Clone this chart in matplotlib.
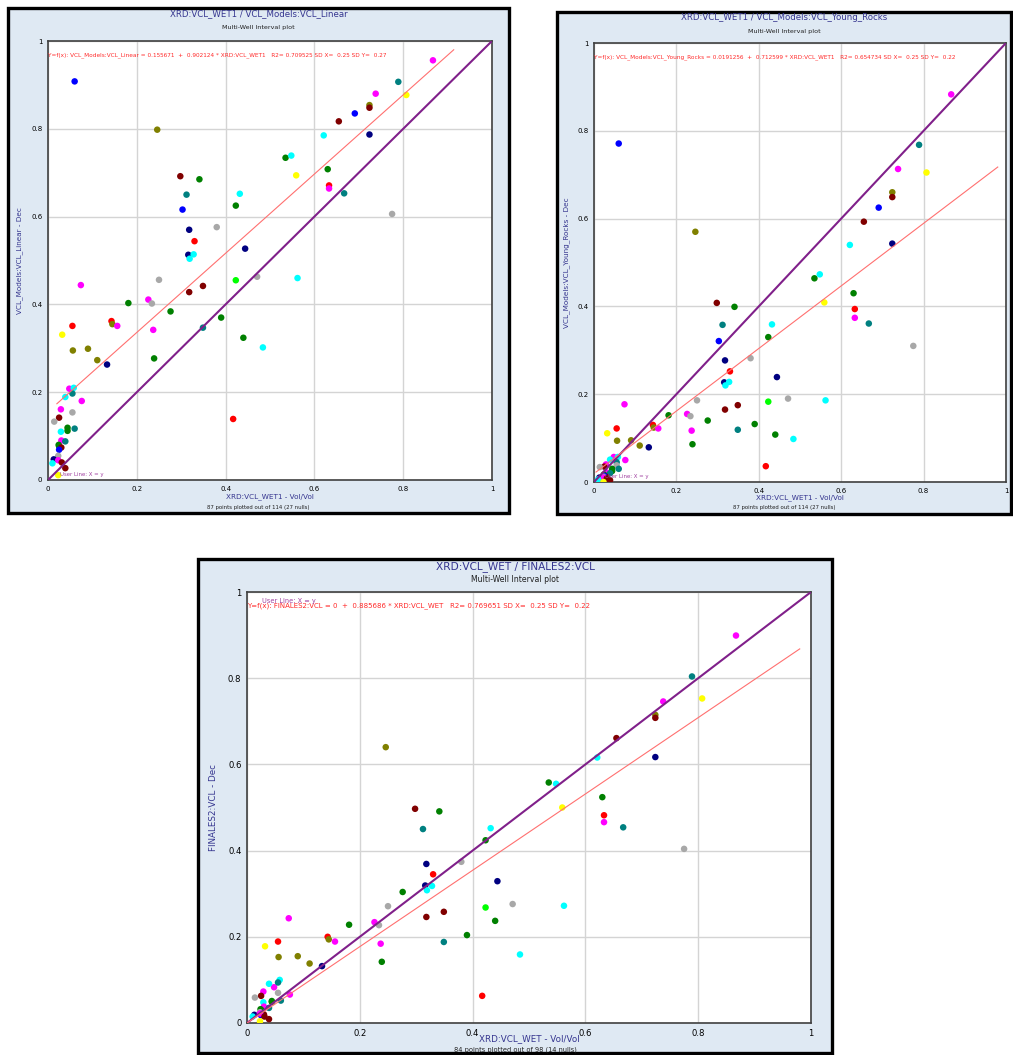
import matplotlib
matplotlib.use("Agg")
import matplotlib.pyplot as plt
from matplotlib.patches import Rectangle

W, H = 1013, 1055

# Well colour palette
C = {
    "blue": "#0000ff", "olive": "#808000", "magenta": "#ff00ff", "teal": "#008080",
    "yellow": "#ffff00", "maroon": "#800000", "cyan": "#00ffff", "navy": "#000080",
    "green": "#008000", "red": "#ff0000", "gray": "#a8a8a8", "lime": "#00ff00",
}

well = ["blue", "olive", "magenta", "teal", "magenta", "yellow", "olive", "maroon",
        "blue", "maroon", "cyan", "navy", "green", "cyan", "yellow", "green",
        "red", "magenta", "teal", "gray", "maroon", "green", "teal", "cyan",
        "green", "blue", "gray", "navy", "red", "navy", "navy", "cyan",
        "cyan", "gray", "gray", "cyan", "lime", "magenta", "maroon", "maroon",
        "green", "magenta", "gray", "green", "green", "red", "olive", "magenta",
        "red", "teal", "magenta", "yellow", "green", "olive", "olive", "cyan",
        "olive", "navy", "green", "red", "magenta", "cyan", "teal", "cyan",
        "magenta", "magenta", "gray", "maroon", "gray", "green", "green", "teal",
        "cyan", "magenta", "teal", "green", "green", "maroon", "blue", "gray",
        "navy", "magenta", "cyan", "maroon", "maroon", "yellow"]

xrd_vcl_wet = [0.060, 0.246, 0.867, 0.789, 0.738, 0.807, 0.724, 0.724,
               0.691, 0.655, 0.621, 0.724, 0.535, 0.548, 0.559, 0.630,
               0.633, 0.633, 0.667, 0.775, 0.298, 0.341, 0.312, 0.432,
               0.423, 0.303, 0.380, 0.318, 0.330, 0.444, 0.316, 0.328,
               0.319, 0.250, 0.471, 0.562, 0.423, 0.074, 0.349, 0.318,
               0.181, 0.226, 0.234, 0.276, 0.390, 0.143, 0.145, 0.156,
               0.055, 0.349, 0.237, 0.032, 0.440, 0.056, 0.090, 0.484,
               0.111, 0.133, 0.239, 0.417, 0.048, 0.058, 0.055, 0.039,
               0.076, 0.029, 0.055, 0.025, 0.014, 0.044, 0.044, 0.060,
               0.029, 0.030, 0.039, 0.024, 0.025, 0.030, 0.025, 0.023,
               0.013, 0.023, 0.010, 0.031, 0.039, 0.023]

vcl_linear = [0.908, 0.798, 0.956, 0.907, 0.880, 0.877, 0.854, 0.848,
              0.835, 0.817, 0.785, 0.787, 0.734, 0.739, 0.694, 0.708,
              0.671, 0.664, 0.653, 0.606, 0.692, 0.685, 0.650, 0.652,
              0.625, 0.616, 0.576, 0.570, 0.544, 0.527, 0.513, 0.514,
              0.504, 0.456, 0.463, 0.460, 0.455, 0.444, 0.442, 0.428,
              0.403, 0.411, 0.402, 0.384, 0.370, 0.362, 0.355, 0.351,
              0.351, 0.347, 0.342, 0.331, 0.324, 0.295, 0.299, 0.302,
              0.273, 0.263, 0.277, 0.139, 0.208, 0.210, 0.197, 0.189,
              0.180, 0.161, 0.154, 0.142, 0.133, 0.119, 0.112, 0.117,
              0.110, 0.090, 0.088, 0.080, 0.077, 0.074, 0.069, 0.055,
              0.047, 0.045, 0.038, 0.040, 0.027, 0.011]

vcl_young_rocks = [0.771, 0.570, 0.883, 0.768, 0.713, 0.705, 0.660, 0.649,
                   0.625, 0.593, 0.540, 0.543, 0.464, 0.473, 0.409, 0.430,
                   0.394, 0.374, 0.361, 0.310, 0.408, 0.399, 0.358, 0.359,
                   0.330, 0.321, 0.282, 0.277, 0.252, 0.239, 0.227, 0.228,
                   0.220, 0.186, 0.190, 0.186, 0.183, 0.177, 0.175, 0.165,
                   0.152, 0.155, 0.150, 0.140, 0.132, 0.130, 0.124, 0.122,
                   0.122, 0.119, 0.117, 0.111, 0.108, 0.094, 0.095, 0.098,
                   0.083, 0.079, 0.086, 0.036, 0.057, 0.057, 0.045, 0.051,
                   0.050, 0.040, 0.038, 0.035, 0.034, 0.030, 0.025, 0.030,
                   0.020, 0.022, 0.020, 0.017, 0.015, 0.012, 0.014, 0.012,
                   0.010, 0.010, 0.006, 0.008, 0.004, 0.000]

finales2_vcl = [None, 0.640, 0.899, 0.804, 0.746, 0.753, 0.715, 0.708,
                None, 0.661, 0.616, 0.617, 0.558, 0.555, 0.500, 0.524,
                0.482, 0.466, 0.454, 0.404, 0.497, 0.491, 0.450, 0.452,
                0.424, None, 0.374, 0.369, 0.345, 0.329, 0.319, 0.318,
                0.308, 0.271, 0.276, 0.272, 0.268, 0.243, 0.258, 0.246,
                0.228, 0.234, 0.227, 0.304, 0.204, 0.200, 0.194, 0.189,
                0.189, 0.188, 0.184, 0.178, 0.237, 0.153, 0.155, 0.159,
                0.138, 0.132, 0.142, 0.063, 0.083, 0.100, 0.094, 0.091,
                0.066, 0.073, 0.070, 0.063, 0.059, 0.051, 0.049, 0.052,
                0.048, 0.038, 0.035, 0.032, 0.030, 0.020, 0.018, 0.025,
                0.019, 0.022, 0.015, 0.015, 0.009, 0.004]

# Regression coefficients per plot (intercept, slope, R2, SD X, SD Y)
fit_intercept = [0.155671, 0.0191256, 0.0]
fit_slope = [0.902124, 0.712599, 0.885686]
fit_r2 = [0.709525, 0.654734, 0.769651]
fit_sdx = [0.25, 0.25, 0.25]
fit_sdy = [0.27, 0.22, 0.22]

titles = ["XRD:VCL_WET1 / VCL_Models:VCL_Linear",
          "XRD:VCL_WET1 / VCL_Models:VCL_Young_Rocks",
          "XRD:VCL_WET / FINALES2:VCL"]
x_names = ["XRD:VCL_WET1", "XRD:VCL_WET1", "XRD:VCL_WET"]
y_names = ["VCL_Models:VCL_Linear", "VCL_Models:VCL_Young_Rocks", "FINALES2:VCL"]
footers = ["87 points plotted out of 114 (27 nulls)",
           "87 points plotted out of 114 (27 nulls)",
           "84 points plotted out of 98 (14 nulls)"]
tick_values = [0, 0.2, 0.4, 0.6, 0.8, 1]
tick_labels = ["0", "0.2", "0.4", "0.6", "0.8", "1"]
series = [vcl_linear, vcl_young_rocks, finales2_vcl]

# Layout in pixels: frame box, axes box (x0, y0, x1, y1), font scale
panels = [
    dict(frame=(8, 8, 509, 513), axes=(48, 41, 492, 480), s=1.0, fit_x0=0.02,
         title_y=14, sub_y=27, xlab_y=497, foot_y=508, ylab_x=20, user_top=False),
    dict(frame=(557, 12, 1011, 514), axes=(594, 43, 1006, 482), s=1.0, fit_x0=0.005,
         title_y=18, sub_y=31, xlab_y=498, foot_y=508, ylab_x=567, user_top=False),
    dict(frame=(198, 559, 832, 1053), axes=(247, 592, 811, 1023), s=1.22, fit_x0=0.0,
         title_y=567, sub_y=579, xlab_y=1039, foot_y=1050, ylab_x=213, user_top=True),
]

FONT = "DejaVu Sans"
plt.rcParams["font.family"] = FONT
fig = plt.figure(figsize=(W / 100, H / 100), dpi=100)
fig.patch.set_facecolor("white")


def fx(px):
    return px / W


def fy(py):
    return 1 - py / H


for i, p in enumerate(panels):
    s = p["s"]
    fx0, fy0, fx1, fy1 = p["frame"]
    fig.add_artist(Rectangle((fx(fx0), fy(fy1)), fx(fx1 - fx0), (fy1 - fy0) / H,
                             transform=fig.transFigure, facecolor="#dfe9f3",
                             edgecolor="black", linewidth=2.4, zorder=0))
    ax0, ay0, ax1, ay1 = p["axes"]
    ax = fig.add_axes([fx(ax0), fy(ay1), fx(ax1 - ax0), (ay1 - ay0) / H])
    ax.set_facecolor("white")
    ax.set_xlim(0, 1)
    ax.set_ylim(0, 1)
    ax.set_xticks(tick_values)
    ax.set_yticks(tick_values)
    ax.set_xticklabels(tick_labels)
    ax.set_yticklabels(tick_labels)
    ax.tick_params(length=0, labelsize=5.0 * s, pad=4, colors="black")
    ax.grid(True, color="#d4d4d4", linewidth=1.0)
    ax.set_axisbelow(True)
    for sp in ax.spines.values():
        sp.set_color("#404040")
        sp.set_linewidth(1.2)

    ys = series[i]
    xs = [x for x, y in zip(xrd_vcl_wet, ys) if y is not None]
    yv = [y for y in ys if y is not None]
    cs = [C[w] for w, y in zip(well, ys) if y is not None]
    ax.scatter(xs, yv, s=22, c=cs, linewidths=0, zorder=3)

    # identity user line
    ax.plot([0, 1], [0, 1], color="#80208a", linewidth=1.5, zorder=4,
            solid_capstyle="butt")
    # least-squares line
    a, b = fit_intercept[i], fit_slope[i]
    x_end = min(0.98, (0.98 - a) / b)
    x_beg = p["fit_x0"]
    ax.plot([x_beg, x_end], [a + b * x_beg, a + b * x_end], color="#ff7070",
            linewidth=0.8, zorder=4)

    a_txt = "0" if a == 0 else f"{a:g}"
    eq = (f"Y=f(x): {y_names[i]} = {a_txt}  +  {b:g} * {x_names[i]}   "
          f"R2= {fit_r2[i]:g} SD X=  {fit_sdx[i]:g} SD Y=  {fit_sdy[i]:g}")
    ax.text(0.0, 0.968, eq, transform=ax.transAxes, fontsize=4.15 * s,
            color="#ff2a2a", ha="left", va="center", zorder=5)
    if p["user_top"]:
        ax.text(0.027, 0.978, "User Line: X = y", transform=ax.transAxes,
                fontsize=3.9 * s, color="#a040a0", ha="left", va="center", zorder=5)
    else:
        ax.text(0.027, 0.012, "User Line: X = y", transform=ax.transAxes,
                fontsize=3.9 * s, color="#a040a0", ha="left", va="center", zorder=5)

    cx_frame = (fx0 + fx1) / 2
    cx_axes = (ax0 + ax1) / 2
    cy_axes = (ay0 + ay1) / 2
    fig.text(fx(cx_frame), fy(p["title_y"]), titles[i], fontsize=6.2 * s,
             color="#35358f", ha="center", va="center")
    fig.text(fx(cx_frame), fy(p["sub_y"]), "Multi-Well Interval plot",
             fontsize=4.6 * s, color="#202020", ha="center", va="center")
    fig.text(fx(cx_axes), fy(p["xlab_y"]), f"{x_names[i]} - Vol/Vol",
             fontsize=5.2 * s, color="#35358f", ha="center", va="center")
    fig.text(fx(cx_frame), fy(p["foot_y"]), footers[i], fontsize=3.9 * s,
             color="#202020", ha="center", va="center")
    fig.text(fx(p["ylab_x"]), fy(cy_axes), f"{y_names[i]} - Dec", fontsize=5.2 * s,
             color="#35358f", ha="center", va="center", rotation=90)

fig.savefig("out.png", dpi=100, facecolor="white")
